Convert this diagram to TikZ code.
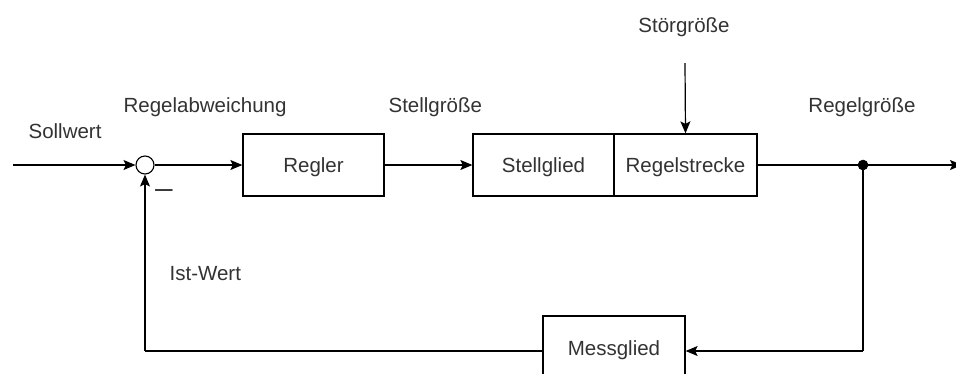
\documentclass[tikz,border=0pt]{standalone}
\usepackage{fontspec}
\setmainfont{Liberation Sans}
\usetikzlibrary{arrows.meta}
\definecolor{txt}{HTML}{333333}
\begin{document}
\begin{tikzpicture}[x=1pt,y=-1pt,
  line width=1.2pt,
  every node/.style={font=\fontsize{20.5}{24}\selectfont, text=txt},
  lbl/.style={inner sep=0pt, anchor=base west},
  blk/.style={draw=black, line width=1.3pt, minimum width=141pt, minimum height=62pt,
     inner sep=0pt, text height=14.7pt, text depth=0pt, fill=white},
  arr/.style={draw=black, -{Stealth[length=12pt,width=10pt,inset=2.5pt]}},
  ln/.style={draw=black}]
\clip (0,0) rectangle (956,373);
\fill[white] (0,0) rectangle (956,373);

% blocks
\node[blk] (regler) at (313.5,165) {Regler};
\node[blk] (stell) at (543.5,165) {Stellglied};
\node[blk, minimum width=143pt] (strecke) at (685.5,165) {Regelstrecke};
\node[blk, minimum width=142pt, minimum height=68pt, text depth=4.7pt] (mess) at (614,350) {Messglied};

% summing junction
\node[draw=black, circle, minimum size=18pt, inner sep=0pt, line width=1.1pt] (sum) at (145,165) {};
\node[circle, fill=black, draw=black, line width=0.5pt, minimum size=10pt, inner sep=0pt] (dot) at (863,165) {};

% labels
\node[lbl] (lsoll) at (28,138) {Sollwert};
\node[lbl] (labw) at (123,112) {Regelabweichung};
\node[lbl] (lstellg) at (388,112) {Stellgröße};
\node[inner sep=0pt, anchor=base] (lstoer) at (684,32) {Störgröße};
\node[inner sep=0pt, anchor=base] (lregel) at (862,112) {Regelgröße};
\node[lbl] (list) at (169,280) {Ist-Wert};
\node[lbl, font=\fontsize{30}{30}\selectfont] (lminus) at (155,185.5) {\_};

% coordinates
\coordinate (in) at (13,165);
\coordinate (stoerstart) at (685,63);
\coordinate (out) at (962,165);
\coordinate (c1) at (863,351);
\coordinate (c2) at (145,351);

% connectors
\draw[arr] (in) -- (sum.west);
\draw[arr] (sum.east) -- (regler.west);
\draw[arr] (regler.east) -- (stell.west);
\draw[ln] (stell.east) -- (strecke.west);
\draw[arr] (stoerstart) -- (strecke.north);
\draw[arr] (strecke.east) -- (out);
\draw[ln] (dot) -- (c1);
\draw[arr] (c1) -- (mess.east |- c1);
\draw[ln] (mess.west |- c2) -- (c2);
\draw[arr] (c2) -- (sum.south);
\end{tikzpicture}
\end{document}
